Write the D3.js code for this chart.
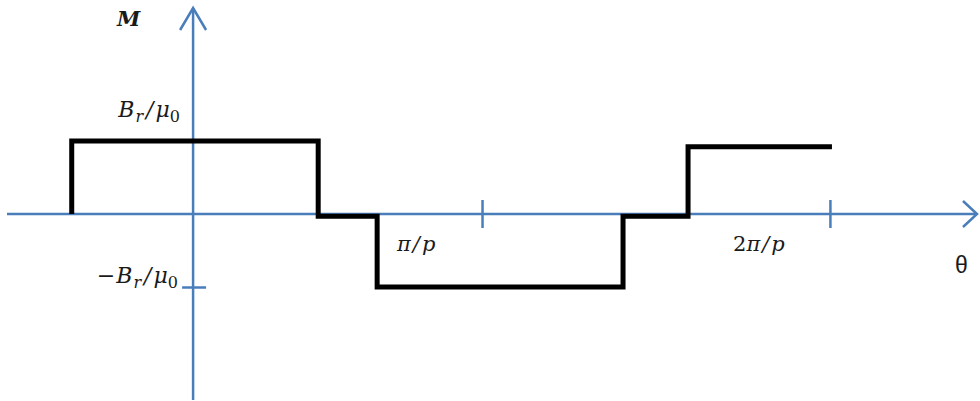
<!DOCTYPE html>
<html><head><meta charset="utf-8">
<script src="https://cdn.jsdelivr.net/npm/d3@7"></script>
<style>html,body{margin:0;padding:0;background:#fff;}svg{display:block;}</style>
</head><body>
<svg id="c" width="980" height="401"></svg>
<script>
// Data (θ in units of π/p; M in units of Br/μ0)
const breaks = [-0.42, 0.433, 0.637, 1.488, 1.713, 2.211];
const levels = [1, -0.03, -1, -0.03, 0.92];
const xTickValues = [1, 2.204];
const xTickLabels = ["π/p", "2π/p"];
const yTickValues = [-1];

const svg = d3.select("#c");
const x = d3.scaleLinear().domain([-0.644, 2.713]).range([7, 977]);
const y = d3.scaleLinear().domain([-1, 1]).range([287, 141]);
const blue = "#4a7ebb";
const ink = "#1a1a1a";

// Axes
const gx = svg.append("g").attr("transform", `translate(0,${y(0)})`);
gx.call(d3.axisBottom(x).tickValues(xTickValues).tickSize(0).tickFormat(""));
gx.select(".domain").attr("stroke", blue).attr("stroke-width", 2.5).attr("d", `M${x.range()[0]},0H${x.range()[1]}`);
gx.selectAll(".tick line").remove();
gx.selectAll(".tick").append("line").attr("y1", -14).attr("y2", 14).attr("stroke", blue).attr("stroke-width", 2.5);

const gy = svg.append("g").attr("transform", `translate(${x(0)},0)`);
gy.call(d3.axisLeft(y).tickValues(yTickValues).tickSize(0).tickFormat(""));
gy.select(".domain").attr("stroke", blue).attr("stroke-width", 2.5).attr("d", `M0,400V8`);
gy.selectAll(".tick line").remove();
gy.selectAll(".tick").append("line").attr("x1", -11).attr("x2", 13).attr("stroke", blue).attr("stroke-width", 2.5);

// Arrowheads (open chevrons)
svg.append("path").attr("d", `M${x(0)-13},30L${x(0)},8L${x(0)+13},30`)
  .attr("fill", "none").attr("stroke", blue).attr("stroke-width", 2.5);
svg.append("path").attr("d", `M963,${y(0)-13}L977,${y(0)}L963,${y(0)+13}`)
  .attr("fill", "none").attr("stroke", blue).attr("stroke-width", 2.5);

// Step waveform
const pts = [[breaks[0], 0]];
levels.forEach((l, i) => pts.push([breaks[i], l]));
pts.push([breaks[breaks.length - 1], levels[levels.length - 1]]);
svg.append("path")
  .attr("d", d3.line().x(d => x(d[0])).y(d => y(d[1])).curve(d3.curveStepAfter)(pts))
  .attr("fill", "none").attr("stroke", "#000").attr("stroke-width", 5)
  .attr("stroke-linejoin", "miter").attr("stroke-linecap", "butt");

// Labels
const serif = "'DejaVu Serif', 'Liberation Serif', serif";
function mathLabel(xp, yp, parts, anchor, size) {
  const t = svg.append("text").attr("x", xp).attr("y", yp)
    .attr("font-family", serif).attr("font-style", "italic")
    .attr("font-size", size || 22).attr("fill", ink).attr("text-anchor", anchor || "start");
  parts.forEach(p => {
    const s = t.append("tspan").text(p.t);
    if (p.sub) s.attr("font-size", 16).attr("dy", 5);
    if (p.up) s.attr("dy", -5);
    if (p.normal) s.attr("font-style", "normal");
    if (p.dx) s.attr("dx", p.dx);
  });
  return t;
}
mathLabel(117, 26, [{t: "M"}], "start", 21).attr("font-weight", "bold");
mathLabel(180, 117, [{t: "B"}, {t: "r", sub: true, dx: 1}, {t: "/", up: true, dx: 3}, {t: "μ", dx: 2}, {t: "0", sub: true, normal: true}], "end");
mathLabel(178, 283, [{t: "−", normal: true}, {t: "B", dx: 1}, {t: "r", sub: true, dx: 1}, {t: "/", up: true, dx: 3}, {t: "μ", dx: 2}, {t: "0", sub: true, normal: true}], "end");
mathLabel(397, 251, [{t: "π"}, {t: "/", dx: 2}, {t: "p", dx: 2}], "start", 21);
mathLabel(733, 251, [{t: "2", normal: true}, {t: "π"}, {t: "/", dx: 2}, {t: "p", dx: 2}], "start", 21);
svg.append("text").attr("x", 955).attr("y", 273).attr("font-family", "'Liberation Sans', Arial, sans-serif")
  .attr("font-size", 23).attr("fill", ink).text("θ");
</script>
</body></html>
